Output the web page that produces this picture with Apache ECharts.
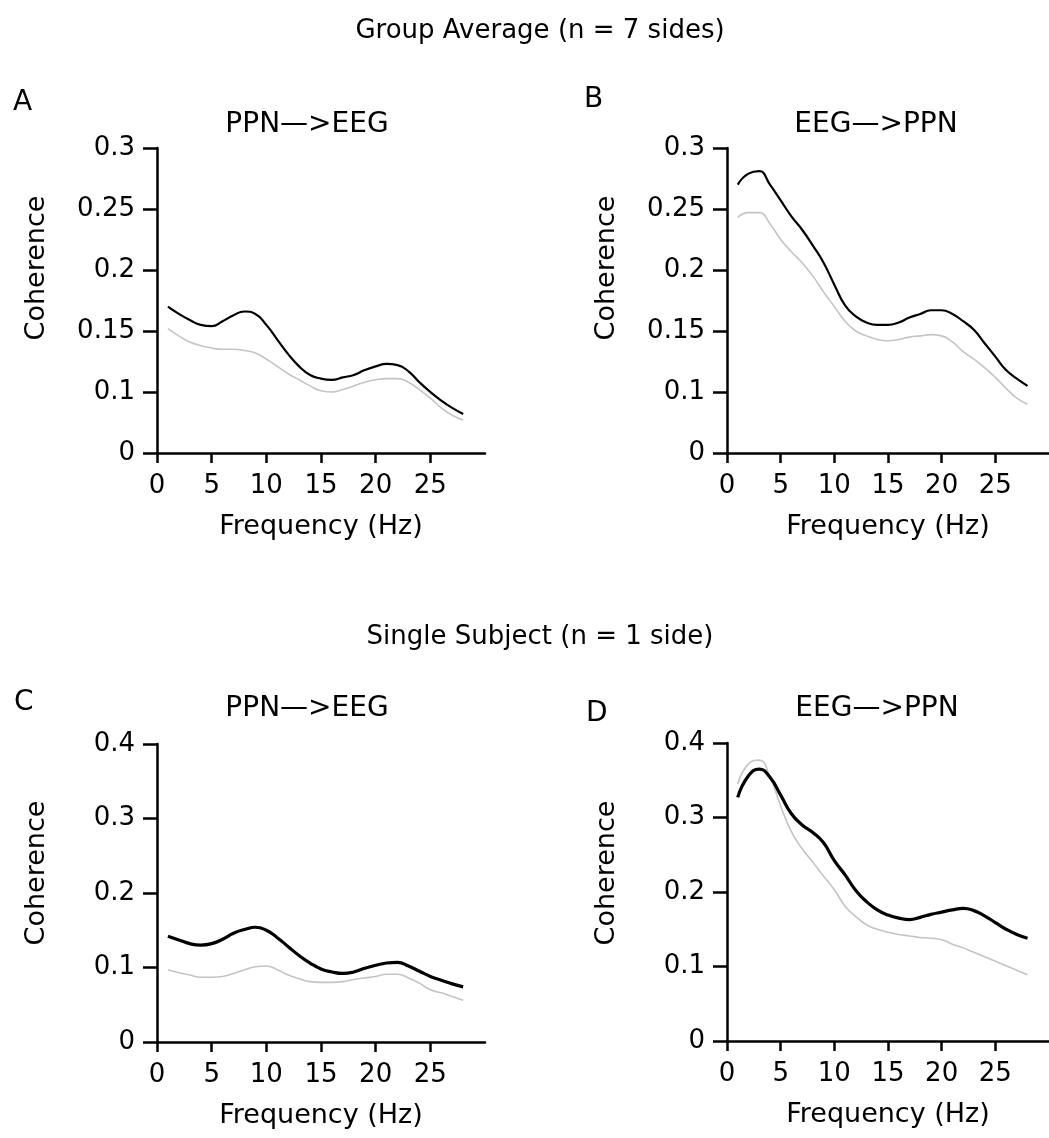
<!DOCTYPE html>
<html>
<head>
<meta charset="utf-8">
<script src="https://cdn.jsdelivr.net/npm/echarts@6/dist/echarts.min.js"></script>
<style>
html,body{margin:0;padding:0;background:#fff;}
#chart{width:1049px;height:1138px;}
</style>
</head>
<body>
<div id="chart"></div>
<script>
// Frequency (Hz) samples
const freq = [1,2,3,4,5,6,7,8,9,10,11,12,13,14,15,16,17,18,19,20,21,22,23,24,25,26,27,28];

// Panel A: Group average, PPN->EEG
const aBlack = [0.170,0.164,0.159,0.155,0.154,0.158,0.163,0.166,0.164,0.155,0.143,0.131,0.121,0.114,0.111,0.110,0.112,0.114,0.118,0.121,0.123,0.122,0.117,0.108,0.100,0.093,0.087,0.082];
const aGrey  = [0.152,0.146,0.141,0.138,0.136,0.135,0.135,0.134,0.132,0.127,0.121,0.115,0.110,0.105,0.101,0.100,0.102,0.105,0.108,0.110,0.111,0.111,0.108,0.102,0.095,0.087,0.081,0.077];
// Panel B: Group average, EEG->PPN
const bBlack = [0.270,0.279,0.281,0.270,0.257,0.244,0.233,0.220,0.206,0.188,0.171,0.162,0.157,0.155,0.155,0.157,0.161,0.164,0.167,0.167,0.164,0.158,0.151,0.140,0.129,0.118,0.111,0.105];
const bGrey  = [0.243,0.247,0.247,0.238,0.225,0.215,0.206,0.195,0.182,0.170,0.158,0.150,0.146,0.143,0.142,0.143,0.145,0.146,0.147,0.146,0.141,0.133,0.127,0.120,0.112,0.103,0.095,0.090];
// Panel C: Single subject, PPN->EEG
const cBlack = [0.142,0.137,0.132,0.130,0.132,0.138,0.146,0.151,0.154,0.150,0.140,0.128,0.116,0.106,0.098,0.094,0.092,0.094,0.099,0.103,0.106,0.107,0.102,0.095,0.088,0.083,0.078,0.074];
const cGrey  = [0.097,0.093,0.090,0.087,0.087,0.088,0.092,0.097,0.101,0.102,0.097,0.090,0.085,0.081,0.080,0.080,0.081,0.084,0.086,0.088,0.091,0.091,0.086,0.079,0.070,0.066,0.061,0.056];
// Panel D: Single subject, EEG->PPN
const dBlack = [0.327,0.356,0.365,0.354,0.330,0.305,0.290,0.280,0.266,0.242,0.223,0.202,0.187,0.176,0.169,0.165,0.163,0.166,0.170,0.173,0.176,0.178,0.175,0.168,0.159,0.150,0.143,0.138];
const dGrey  = [0.345,0.372,0.377,0.355,0.315,0.281,0.258,0.240,0.221,0.203,0.181,0.167,0.156,0.150,0.146,0.143,0.141,0.139,0.138,0.136,0.130,0.125,0.119,0.113,0.107,0.101,0.095,0.089];

const xTicks = [0,5,10,15,20,25];
const yTicksTop = [0.05,0.1,0.15,0.2,0.25,0.3];   // lowest tick is labelled "0"
const yTicksBottom = [0,0.1,0.2,0.3,0.4];

const FONT = 'DejaVu Sans';

const grids = [
  {left:157, top:148, width:328, height:305},
  {left:727, top:148, width:328, height:305},
  {left:157, top:744, width:328, height:298},
  {left:727, top:743, width:328, height:298}
];

function xAxis(i){
  return {
    type:'value', gridIndex:i, min:0, max:30, interval:5,
    name:'Frequency (Hz)', nameLocation:'middle', nameGap:60,
    nameTextStyle:{fontFamily:FONT, fontSize:27, color:'#000'},
    axisLine:{show:true, onZero:false, lineStyle:{color:'#000', width:2.5}},
    axisTick:{show:true, length:10, customValues:xTicks, lineStyle:{color:'#000', width:2.5}},
    axisLabel:{customValues:xTicks, margin:20, fontFamily:FONT, fontSize:26, color:'#000'},
    splitLine:{show:false}
  };
}
function yAxisTop(i){
  return {
    type:'value', gridIndex:i, min:0.05, max:0.3, interval:0.05,
    axisLine:{show:true, lineStyle:{color:'#000', width:2.5}},
    axisTick:{show:true, length:14, customValues:yTicksTop, lineStyle:{color:'#000', width:2.5}},
    axisLabel:{customValues:yTicksTop, margin:22, fontFamily:FONT, fontSize:26, color:'#000',
      formatter:function(v){ return Math.abs(v-0.05)<1e-9 ? '0' : String(+(+v).toFixed(2)); }},
    splitLine:{show:false}
  };
}
function yAxisBottom(i){
  return {
    type:'value', gridIndex:i, min:0, max:0.4, interval:0.1,
    axisLine:{show:true, lineStyle:{color:'#000', width:2.5}},
    axisTick:{show:true, length:14, customValues:yTicksBottom, lineStyle:{color:'#000', width:2.5}},
    axisLabel:{customValues:yTicksBottom, margin:22, fontFamily:FONT, fontSize:26, color:'#000',
      formatter:function(v){ return String(+(+v).toFixed(2)); }},
    splitLine:{show:false}
  };
}
function line(i, arr, grey, thick){
  return {
    type:'line', xAxisIndex:i, yAxisIndex:i, smooth:true, showSymbol:false, silent:true,
    data: freq.map((f,k)=>[f, arr[k]]),
    lineStyle: grey ? {color:'#c4c4c4', width:1.6} : {color:'#000', width:thick},
    z: grey ? 2 : 3
  };
}
function txt(x, y, s, size, align, rot){
  return {type:'text', x:x, y:y, rotation: rot||0,
    style:{text:s, fontFamily:FONT, fontSize:size, fill:'#000', align:align||'center', verticalAlign:'middle'}};
}

const option = {
  backgroundColor:'#fff',
  animation:false,
  grid: grids,
  xAxis: [xAxis(0), xAxis(1), xAxis(2), xAxis(3)],
  yAxis: [yAxisTop(0), yAxisTop(1), yAxisBottom(2), yAxisBottom(3)],
  series: [
    line(0, aGrey, true), line(0, aBlack, false, 2.2),
    line(1, bGrey, true), line(1, bBlack, false, 2.2),
    line(2, cGrey, true), line(2, cBlack, false, 3.2),
    line(3, dGrey, true), line(3, dBlack, false, 3.2)
  ],
  graphic: [
    txt(540, 31, 'Group Average (n = 7 sides)', 26),
    txt(540, 637, 'Single Subject (n = 1 side)', 26),
    txt(13, 103, 'A', 28, 'left'),
    txt(584, 100, 'B', 28, 'left'),
    txt(14, 703, 'C', 28, 'left'),
    txt(586, 714, 'D', 28, 'left'),
    txt(307, 125, 'PPN—>EEG', 28),
    txt(876, 125, 'EEG—>PPN', 28),
    txt(307, 709, 'PPN—>EEG', 28),
    txt(877, 709, 'EEG—>PPN', 28),
    txt(37, 268, 'Coherence', 27, 'center', Math.PI/2),
    txt(607, 268, 'Coherence', 27, 'center', Math.PI/2),
    txt(37, 873, 'Coherence', 27, 'center', Math.PI/2),
    txt(607, 873, 'Coherence', 27, 'center', Math.PI/2)
  ]
};

const chart = echarts.init(document.getElementById('chart'), null, {renderer:'canvas'});
chart.setOption(option);
</script>
</body>
</html>
